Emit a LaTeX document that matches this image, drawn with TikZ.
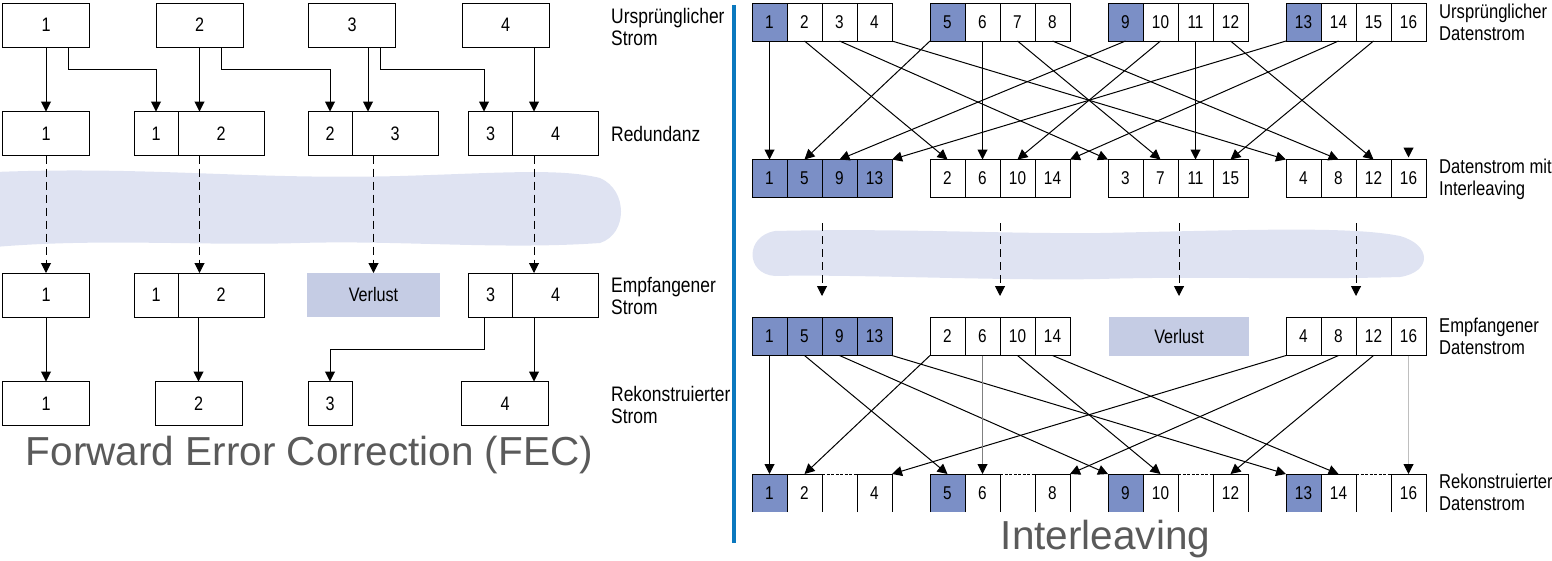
\documentclass[tikz,border=0pt]{standalone}
\usepackage{fontspec}
\setmainfont{Liberation Sans}
\newfontfamily\condfont[FakeStretch=0.83]{Liberation Sans}
\usetikzlibrary{arrows.meta,positioning}
\definecolor{cellblue}{RGB}{123,143,198}
\definecolor{lossblue}{RGB}{197,204,228}
\definecolor{cloudblue}{RGB}{223,227,242}
\definecolor{sepblue}{RGB}{10,120,190}
\definecolor{titlegray}{RGB}{90,90,90}

\begin{document}
\begin{tikzpicture}[x=1pt,y=-1pt,
    box/.style={draw,line width=1pt,inner sep=0pt,outer sep=0pt,minimum height=44pt,minimum width=87pt,font=\condfont\fontsize{19.5}{22}\selectfont},
    cell/.style={draw,line width=1pt,inner sep=0pt,outer sep=0pt,minimum height=38pt,minimum width=35pt,font=\condfont\fontsize{18.5}{21}\selectfont},
    bcell/.style={cell,fill=cellblue},
    dcell/.style={cell,draw=none},
    dbcell/.style={dcell,fill=cellblue},
    loss/.style={fill=lossblue,inner sep=0pt,outer sep=0pt,font=\condfont\fontsize{19.5}{22}\selectfont},
    lbl/.style={anchor=west,align=left,inner sep=0pt,font=\condfont\fontsize{20}{22}\selectfont},
    title/.style={text=titlegray,inner sep=0pt,font=\fontsize{40.5}{44}\selectfont},
    arr/.style={line width=1pt,-{Triangle[length=10pt,width=10pt]}},
    garr/.style={line width=1pt,draw=gray,-{Triangle[length=10pt,width=10pt,color=black]}},
    darr/.style={arr,dash pattern=on 8pt off 5pt},
  ]
  \useasboundingbox (0,0) rectangle (1552,560);

  % Netz-Wolken
  \fill[cloudblue] (-5,172) .. controls (150,166) and (250,180) .. (400,176)
    .. controls (500,173) and (560,168) .. (600,178)
    .. controls (628,190) and (628,234) .. (600,243)
    .. controls (500,250) and (400,240) .. (300,243)
    .. controls (200,246) and (100,238) .. (-5,247) -- cycle;
  \fill[cloudblue] (775,231) .. controls (900,228) and (1000,234) .. (1100,233)
    .. controls (1250,230) and (1350,226) .. (1400,236)
    .. controls (1432,245) and (1432,272) .. (1400,277)
    .. controls (1300,280) and (1200,276) .. (1100,279)
    .. controls (1000,281) and (850,274) .. (775,276)
    .. controls (745,274) and (745,236) .. (775,231) -- cycle;

  % FEC
  \node[box] (o1) at (46,25) {1};
  \node[box] (o2) at (199.5,25) {2};
  \node[box] (o3) at (352,25) {3};
  \node[box] (o4) at (505.5,25) {4};

  \node[box] (r1) at (46,133.5) {1};
  \node[box,minimum width=44pt] (r2a) at (156,133.5) {1};
  \node[box,minimum width=86pt,right=0pt of r2a] (r2b) {2};
  \node[box,minimum width=44pt] (r3a) at (330,133.5) {2};
  \node[box,minimum width=86pt,right=0pt of r3a] (r3b) {3};
  \node[box,minimum width=44pt] (r4a) at (490.5,133.5) {3};
  \node[box,minimum width=86pt,right=0pt of r4a] (r4b) {4};

  \node[box] (e1) at (46,295) {1};
  \node[box,minimum width=44pt] (e2a) at (156,295) {1};
  \node[box,minimum width=86pt,right=0pt of e2a] (e2b) {2};
  \node[loss,minimum width=133pt,minimum height=44pt] (verl) at (373.5,295) {Verlust};
  \node[box,minimum width=44pt] (e4a) at (490.5,295) {3};
  \node[box,minimum width=86pt,right=0pt of e4a] (e4b) {4};

  \node[box] (k1) at (46,403.5) {1};
  \node[box] (k2) at (198.5,403.5) {2};
  \node[box,minimum width=44pt] (k3) at (330,403.5) {3};
  \node[box] (k4) at (505,403.5) {4};

  \draw[arr] (o1) -- (r1);
  \draw[arr] (o1.south -| 68,0) -- ++(0,22) -| (r2a.north);
  \draw[arr] (o2) -- (o2 |- r2b.north);
  \draw[arr] (o2.south -| 221,0) -- ++(0,22) -| (r3a.north);
  \draw[arr] (o3.south -| 368,0) -- (r3b.north -| 368,0);
  \draw[arr] (o3.south -| 380,0) -- ++(0,22) -| (r4a.north -| 484,0);
  \draw[arr] (o4.south -| 534,0) -- (r4b.north -| 534,0);

  \draw[darr] (r1) -- (e1);
  \draw[darr] (r2b.south -| o2) -- (e2b.north -| o2);
  \draw[darr] (r3b.south -| verl) -- (verl.north);
  \draw[darr] (r4b.south -| 534,0) -- (e4b.north -| 534,0);

  \draw[arr] (e1) -- (k1);
  \draw[arr] (e2b.south -| k2) -- (k2.north);
  \draw[arr] (e4a.south -| 484,0) -- ++(0,32) -| (k3.north);
  \draw[arr] (e4b.south -| 534,0) -- (k4.north -| 534,0);

  \node[lbl,font=\condfont\fontsize{21}{22}\selectfont] (lo) at (611,27) {Ursprünglicher\\Strom};
  \node[lbl,font=\condfont\fontsize{21}{22}\selectfont] (lr) at (611,133.5) {Redundanz};
  \node[lbl,font=\condfont\fontsize{21}{22}\selectfont] (le) at (611,296) {Empfangener\\Strom};
  \node[lbl,font=\condfont\fontsize{21}{22}\selectfont] (lk) at (611,405) {Rekonstruierter\\Strom};

  \node[title,anchor=base] (fec) at (309.5,465) {Forward Error Correction (FEC)};

  \draw[sepblue,line width=4pt] (734,5) -- (734,543);

  % Interleaving
  \foreach \n in {1,...,16}{
    \pgfmathtruncatemacro\g{(\n-1)/4}
    \pgfmathtruncatemacro\p{mod(\n-1,4)}
    \ifnum\p=0 \def\sty{bcell}\else\def\sty{cell}\fi
    \node[\sty] (a\n) at (769.5+178*\g+35*\p,22) {\n};
    \node[\sty] (b\n) at (769.5+178*\p+35*\g,178.5) {\n};
    \ifnum\p=2 \else \node[\sty] (c\n) at (769.5+178*\p+35*\g,336.5) {\n}; \fi
    \ifnum\p=0 \def\sty{dbcell}\else\def\sty{dcell}\fi
    \ifnum\p=2 \node[dcell] (d\n) at (769.5+178*\g+35*\p,493) {};
    \else \node[\sty] (d\n) at (769.5+178*\g+35*\p,493) {\n}; \fi
  }
  \node[loss,minimum width=140pt,minimum height=39pt] (verl2) at (1179,336.5) {Verlust};

  \foreach \n in {1,2,4,5,6,8,9,10,12,13,14,16}
    \draw[line width=1pt] (d\n.south west) |- (d\n.north east) -- (d\n.south east);
  \foreach \n in {3,7,11,15}
    \draw[line width=0.6pt,dash pattern=on 3pt off 1.5pt] (d\n.north west) -- (d\n.north east);

  \foreach \s/\t in {a1.south/b1.north, a2.south/b2.north, a3.south/b3.north west,
      a4.south east/b4.north west, a5.south west/b5.north, a6.south/b6.north,
      a7.south/b7.north, a8.south/b8.north, a9.south/b9.north, a10.south/b10.north,
      a11.south/b11.north, a12.south/b12.north, a13.south west/b13.north east,
      a14.south/b14.north east, a15.south/b15.north}
    \draw[arr] (\s) -- (\t);
  \draw[arr] ([yshift=12pt]b16.north) -- ([yshift=2pt]b16.north);

  \foreach \i/\x in {1/822,2/1000,3/1179,4/1356}{
    \coordinate (ds\i) at (\x,223);
    \coordinate (dt\i) at (\x,296);
    \draw[darr] (ds\i) -- (dt\i);
  }

  \foreach \s/\t in {c1.south/d1.north, c5.south/d5.north, c9.south/d9.north west,
      c13.south east/d13.north west, c2.south west/d2.north, c10.south/d10.north,
      c14.south/d14.north, c4.south west/d4.north east, c8.south/d8.north east,
      c12.south/d12.north}
    \draw[arr] (\s) -- (\t);
  \draw[garr] (c6) -- (d6);
  \draw[garr,draw=black!25] (c16) -- (d16);

  \node[lbl] (la) at (1439,22) {Ursprünglicher\\Datenstrom};
  \node[lbl] (lb) at (1439,179) {Datenstrom mit\\Interleaving};
  \node[lbl] (lc) at (1439,336.5) {Empfangener\\Datenstrom};
  \node[lbl] (ld) at (1439,492) {Rekonstruierter\\Datenstrom};

  \node[title,anchor=base] (il) at (1105.5,549) {Interleaving};
\end{tikzpicture}
\end{document}
